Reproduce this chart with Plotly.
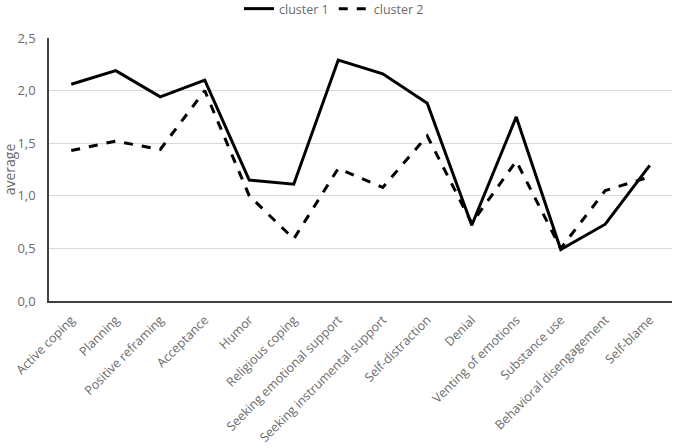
import plotly.graph_objects as go

categories = ["Active coping", "Planning", "Positive reframing", "Acceptance", "Humor",
              "Religious coping", "Seeking emotional support", "Seeking instrumental support",
              "Self-distraction", "Denial", "Venting of emotions", "Substance use",
              "Behavioral disengagement", "Self-blame"]
cluster1 = [2.06, 2.19, 1.94, 2.10, 1.15, 1.11, 2.29, 2.16, 1.88, 0.72, 1.75, 0.49, 0.73, 1.29]
cluster2 = [1.43, 1.52, 1.44, 2.00, 1.00, 0.59, 1.26, 1.08, 1.57, 0.74, 1.33, 0.50, 1.05, 1.18]
y_ticks = [0, 0.5, 1.0, 1.5, 2.0, 2.5]

gray = "#6b6b6b"
fig = go.Figure()
fig.add_trace(go.Scatter(x=categories, y=cluster1, mode="lines", name="cluster 1",
                         line=dict(color="black", width=3)))
fig.add_trace(go.Scatter(x=categories, y=cluster2, mode="lines", name="cluster 2",
                         line=dict(color="black", width=3, dash="dash")))

fig.update_layout(
    width=673, height=448,
    margin=dict(l=49, r=1, t=38, b=147, autoexpand=False),
    paper_bgcolor="white", plot_bgcolor="white",
    separators=",.",
    font=dict(family="Open Sans", size=12, color=gray),
    showlegend=True,
    legend=dict(orientation="h", x=(334 - 49) / 623, xanchor="center", y=1 + 29 / 263,
                yanchor="middle", font=dict(size=12.5, color=gray)),
)
fig.update_xaxes(type="category", tickangle=-45, showline=True, linecolor="#404040",
                 linewidth=1.5, showgrid=False, ticks="", tickfont=dict(size=12.5, color=gray),
                 ticklabelstandoff=5,
                 range=[-0.5, len(categories) - 0.5], automargin=False)
fig.update_yaxes(range=[0, 2.5], tickvals=y_ticks, tickformat=".1f", showgrid=True,
                 gridcolor="#d9d9d9", gridwidth=1, showline=True, linecolor="#404040",
                 linewidth=1.5, zeroline=False, ticks="", tickfont=dict(size=13, color=gray),
                 ticklabelstandoff=9, automargin=False,
                 title=dict(text="average", font=dict(size=14, color=gray), standoff=0))
fig.write_html("out.html", config={"displayModeBar": False},
               post_script="document.body.style.margin='0';")
